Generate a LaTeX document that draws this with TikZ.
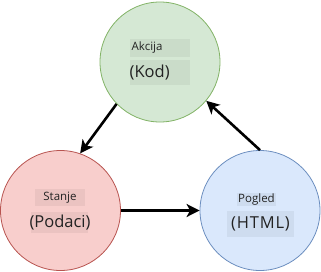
\documentclass[tikz,border=0pt]{standalone}
\usepackage{fontspec}
\setmainfont{Open Sans}
\usetikzlibrary{arrows.meta}
\definecolor{gfill}{HTML}{D5E8D4}\definecolor{gline}{HTML}{82B366}
\definecolor{rfill}{HTML}{F8CECC}\definecolor{rline}{HTML}{B85450}
\definecolor{bfill}{HTML}{DAE8FC}\definecolor{bline}{HTML}{6C8EBF}
\definecolor{txt}{HTML}{222222}
\tikzset{
  state/.style={circle,draw=#1line,fill=#1fill,line width=0.8pt,minimum size=120pt,inner sep=0pt},
  lbox/.style={fill=black,fill opacity=0.05,inner sep=0pt,draw=none},
  small/.style={font=\fontsize{11.5pt}{13pt}\selectfont,text=txt,inner sep=0pt},
  big/.style={font=\fontsize{16.5pt}{19pt}\selectfont,text=txt,inner sep=0pt},
  flow/.style={line width=2.6pt,-{Stealth[length=13pt,width=13pt,inset=3.5pt]}}
}
\begin{document}
\begin{tikzpicture}[x=1pt,y=-1pt]
\useasboundingbox (0,0) rectangle (321,271);
\node[state=g] (green) at (160,62) {};
\node[state=r] (red) at (60.5,210.5) {};
\node[state=b] (blue) at (260,210.5) {};
% label boxes
\node[lbox,minimum width=60pt,minimum height=18pt] (ab) at (160,48) {};
\node[lbox,minimum width=60pt,minimum height=25pt] (kb) at (160,72.5) {};
\node[lbox,minimum width=50pt,minimum height=17pt] (sb) at (60,197.5) {};
\node[lbox,minimum width=57pt,minimum height=21pt] (pb) at (59.5,222.5) {};
\node[lbox,minimum width=39pt,minimum height=13pt] (gb) at (256.5,199.5) {};
\node[lbox,minimum width=67pt,minimum height=26pt] (hb) at (260.5,224) {};
% texts
\node[small,anchor=west] (akcija) at (131.5,48) {Akcija};
\node[big,anchor=west] (kod) at (129.5,72.5) {(Kod)};
\node[small] (stanje) at (60,197.5) {Stanje};
\node[big] (podaci) at (60,222.5) {(Podaci)};
\node[small] (pogled) at (256.5,199.5) {Pogled};
\node[big] (html) at (260.5,224) {\addfontfeature{LetterSpace=5}(HTML)};
% connectors
\draw[flow] (green.224) -- (red.71);
\draw[flow] (blue.90) -- (green.320);
\draw[flow] (red.east) -- (blue.west);
\end{tikzpicture}
\end{document}
